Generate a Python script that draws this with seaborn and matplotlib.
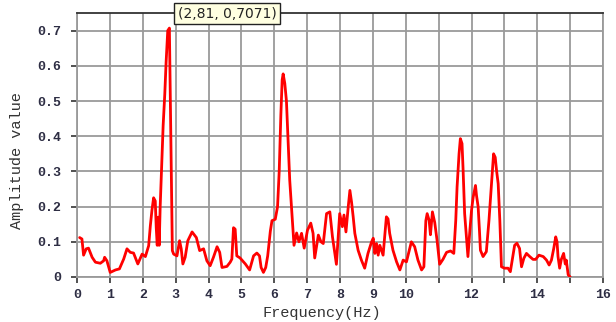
import matplotlib
matplotlib.use("Agg")
import matplotlib.pyplot as plt
import seaborn as sns
import pandas as pd

# Amplitude spectrum samples
freq_hz = [
    0.08, 0.15, 0.20, 0.28, 0.35, 0.46, 0.56, 0.71, 0.81, 0.84, 0.91, 1.01,
    1.17, 1.29, 1.42, 1.52, 1.62, 1.72, 1.85, 1.98, 2.08, 2.18, 2.23, 2.28,
    2.33, 2.38, 2.41, 2.44, 2.47, 2.50, 2.53, 2.57, 2.62, 2.67, 2.71, 2.76,
    2.81, 2.84, 2.87, 2.90, 2.94, 3.04, 3.12, 3.17, 3.22, 3.29, 3.37, 3.50,
    3.63, 3.73, 3.85, 3.95, 4.05, 4.15, 4.26, 4.34, 4.41, 4.56, 4.66, 4.71,
    4.76, 4.81, 4.86, 4.96, 5.12, 5.25, 5.37, 5.47, 5.55, 5.60, 5.67, 5.74,
    5.80, 5.88, 5.93, 6.03, 6.10, 6.15, 6.20, 6.24, 6.27, 6.32, 6.37, 6.42,
    6.47, 6.53, 6.60, 6.68, 6.75, 6.83, 6.91, 7.01, 7.11, 7.18, 7.23, 7.34,
    7.42, 7.49, 7.59, 7.69, 7.77, 7.89, 7.99, 8.07, 8.12, 8.18, 8.25, 8.30,
    8.35, 8.40, 8.45, 8.55, 8.65, 8.75, 8.85, 8.96, 9.01, 9.06, 9.11, 9.16,
    9.21, 9.31, 9.41, 9.46, 9.51, 9.61, 9.72, 9.82, 9.92, 10.02, 10.17, 10.27,
    10.37, 10.48, 10.55, 10.61, 10.65, 10.71, 10.75, 10.81, 10.88, 10.95, 11.03, 11.13,
    11.24, 11.36, 11.46, 11.52, 11.56, 11.62, 11.66, 11.71, 11.74, 11.79, 11.85, 11.89,
    11.95, 12.00, 12.05, 12.12, 12.15, 12.20, 12.24, 12.27, 12.35, 12.45, 12.53, 12.58,
    12.64, 12.67, 12.72, 12.76, 12.81, 12.86, 12.91, 13.00, 13.11, 13.18, 13.26, 13.31,
    13.38, 13.46, 13.52, 13.59, 13.67, 13.77, 13.87, 13.95, 14.05, 14.18, 14.28, 14.36,
    14.43, 14.50, 14.56, 14.60, 14.63, 14.68, 14.73, 14.80, 14.85, 14.88, 14.94, 15.00,
]
amplitude = [
    0.112, 0.108, 0.062, 0.080, 0.082, 0.056, 0.042, 0.039, 0.046, 0.056, 0.046, 0.013,
    0.020, 0.023, 0.051, 0.080, 0.070, 0.068, 0.037, 0.065, 0.058, 0.089, 0.145, 0.190,
    0.225, 0.216, 0.140, 0.090, 0.170, 0.090, 0.200, 0.300, 0.430, 0.520, 0.610, 0.700,
    0.7071, 0.490, 0.290, 0.075, 0.065, 0.060, 0.103, 0.080, 0.037, 0.056, 0.103, 0.128,
    0.112, 0.075, 0.080, 0.046, 0.032, 0.056, 0.086, 0.070, 0.027, 0.030, 0.042, 0.051,
    0.140, 0.136, 0.060, 0.054, 0.037, 0.020, 0.060, 0.068, 0.060, 0.027, 0.013, 0.027,
    0.060, 0.130, 0.160, 0.164, 0.200, 0.300, 0.460, 0.560, 0.577, 0.550, 0.500, 0.388,
    0.275, 0.190, 0.090, 0.125, 0.100, 0.124, 0.082, 0.133, 0.153, 0.124, 0.054, 0.119,
    0.100, 0.095, 0.180, 0.185, 0.114, 0.036, 0.180, 0.143, 0.176, 0.128, 0.200, 0.246,
    0.213, 0.171, 0.124, 0.076, 0.048, 0.025, 0.067, 0.100, 0.110, 0.067, 0.095, 0.062,
    0.090, 0.062, 0.171, 0.165, 0.124, 0.076, 0.043, 0.020, 0.048, 0.043, 0.100, 0.086,
    0.048, 0.020, 0.029, 0.160, 0.180, 0.161, 0.120, 0.185, 0.155, 0.105, 0.036, 0.050,
    0.070, 0.074, 0.067, 0.161, 0.256, 0.350, 0.393, 0.379, 0.312, 0.180, 0.105, 0.058,
    0.133, 0.190, 0.227, 0.260, 0.232, 0.200, 0.133, 0.076, 0.058, 0.072, 0.161, 0.227,
    0.303, 0.350, 0.340, 0.303, 0.265, 0.161, 0.029, 0.025, 0.025, 0.015, 0.060, 0.090,
    0.096, 0.081, 0.029, 0.053, 0.067, 0.058, 0.050, 0.050, 0.062, 0.058, 0.048, 0.034,
    0.048, 0.081, 0.114, 0.100, 0.058, 0.025, 0.050, 0.067, 0.037, 0.048, 0.006, 0.000,
]

x_ticks = list(range(0, 17))
x_tick_labels = ["0", "1", "2", "3", "4", "5", "6", "7", "8", "9", "10",
                 "", "12", "", "14", "", "16"]
y_ticks = [0, 0.1, 0.2, 0.3, 0.4, 0.5, 0.6, 0.7]
y_tick_labels = ["0", "0.1", "0.2", "0.3", "0.4", "0.5", "0.6", "0.7"]

peak_freq = 2.81
peak_amp = 0.7071
peak_label = "(2,81, 0,7071)"

sns.set_theme(style="white")
plt.rcParams["font.family"] = ["Liberation Mono", "DejaVu Sans Mono"]

fig = plt.figure(figsize=(6.16, 3.22), dpi=100)
ax = fig.add_axes([0.125, 0.1398, 0.854, 0.8198])

df = pd.DataFrame({"Frequency": freq_hz, "Amplitude": amplitude})
sns.lineplot(data=df, x="Frequency", y="Amplitude", ax=ax,
             color="#ff0000", linewidth=2.0, zorder=3)

ax.set_xlim(0, 16)
ax.set_ylim(0, 0.75)
ax.set_xticks(x_ticks)
ax.set_xticklabels(x_tick_labels)
ax.set_yticks(y_ticks)
ax.set_yticklabels(y_tick_labels)
ax.xaxis.set_ticks_position("bottom")
ax.yaxis.set_ticks_position("left")

# grid drawn as plain lines inside the plotting area
for xv in x_ticks:
    ax.axvline(xv, color="#9a9a9a", linewidth=1.3, zorder=1)
for yv in y_ticks:
    ax.axhline(yv, color="#9a9a9a", linewidth=1.3, zorder=1)

for side in ["left", "bottom", "right"]:
    ax.spines[side].set_color("#9a9a9a")
    ax.spines[side].set_linewidth(1.3)
ax.spines["top"].set_color("#333333")
ax.spines["top"].set_linewidth(1.3)

ax.tick_params(axis="both", which="major", length=4, width=1.2,
               color="#333333", labelsize=9.5, labelcolor="#2e2e44")
ax.tick_params(axis="y", pad=7)
ax.tick_params(axis="x", pad=5)
for lbl in ax.get_xticklabels() + ax.get_yticklabels():
    lbl.set_fontweight("bold")

ax.set_xlabel("Frequency(Hz)", fontsize=11, color="#333333")
ax.set_ylabel("Amplitude value", fontsize=11, color="#333333")
ax.xaxis.label.set_va("center")
ax.yaxis.label.set_va("center")
ax.xaxis.set_label_coords(0.465, -0.137)
ax.yaxis.set_label_coords(-0.114, 0.44)

ax.annotate(peak_label, xy=(peak_freq, 1.0), xycoords=("data", "axes fraction"),
            xytext=(6, -0.5), textcoords="offset points", ha="left", va="center",
            fontsize=10, family=["DejaVu Sans"], color="#222222",
            bbox=dict(boxstyle="square,pad=0.25", facecolor="#ffffe1",
                      edgecolor="#222222", linewidth=1.0),
            annotation_clip=False, zorder=5)

fig.savefig("out.png", dpi=100)
